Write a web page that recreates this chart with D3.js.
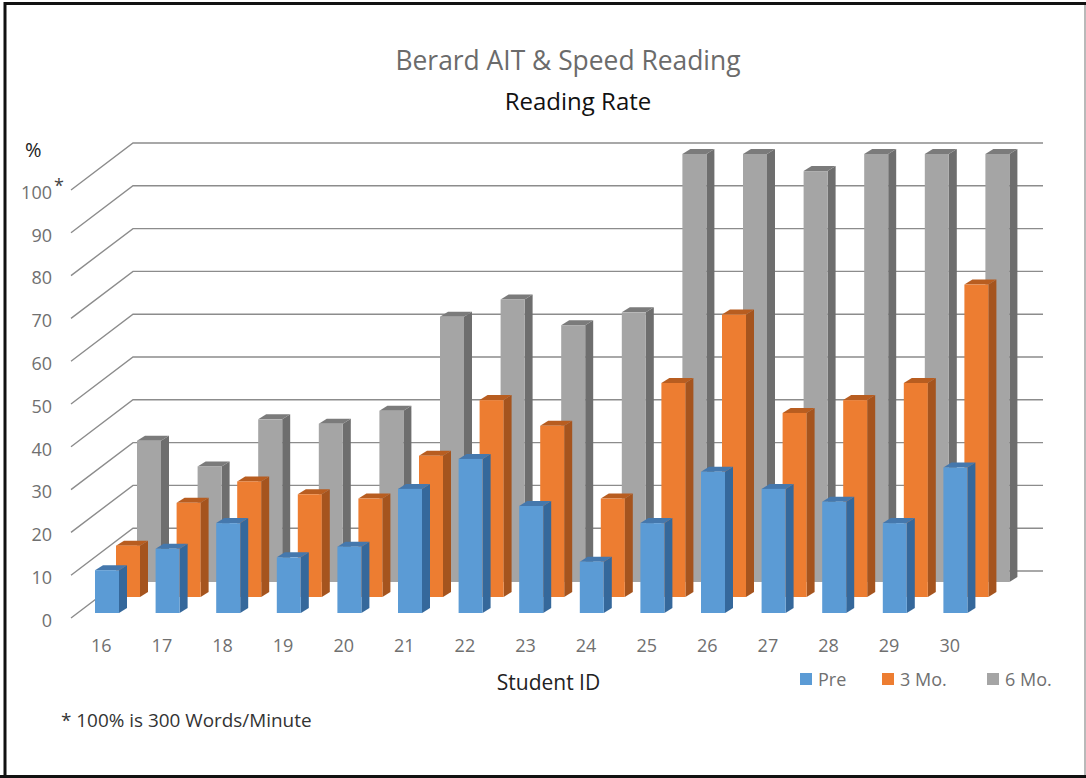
<!DOCTYPE html>
<html>
<head>
<meta charset="utf-8">
<script src="https://cdn.jsdelivr.net/npm/d3@7"></script>
<style>
  html, body { margin: 0; padding: 0; background: #fff; }
  svg { display: block; }
  text { font-family: "Open Sans", "Noto Sans", sans-serif; }
</style>
</head>
<body>
<script>
const studentIds = [16, 17, 18, 19, 20, 21, 22, 23, 24, 25, 26, 27, 28, 29, 30];
const preValues = [10, 15, 21, 13, 15.5, 29, 36, 25, 12, 21, 33, 29, 26, 21, 34];
const threeMoValues = [12, 22, 27, 24, 23, 33, 46, 40, 23, 50, 66, 43, 46, 50, 73];
const sixMoValues = [33, 27, 38, 37, 40, 62, 66, 60, 63, 100, 100, 96, 100, 100, 100];
const yTicks = [0, 10, 20, 30, 40, 50, 60, 70, 80, 90, 100];

const width = 1086;
const height = 778;
const barWidth = 24;
const depthX = 8;
const depthY = 5;

const series = [
    { name: "Pre", values: preValues, dx: 0, base: 613, front: "#5b9bd5", side: "#35689b", top: "#4578ad" },
    { name: "3 Mo.", values: threeMoValues, dx: 21, base: 597, front: "#ed7d31", side: "#a5541e", top: "#b85d20" },
    { name: "6 Mo.", values: sixMoValues, dx: 42, base: 582, front: "#a5a5a5", side: "#6e6e6e", top: "#7b7b7b" }
];

const svg = d3.select("body").append("svg").attr("width", width).attr("height", height);

// frame of the pasted picture
svg.append("rect").attr("width", width).attr("height", height).attr("fill", "#fff");
svg.append("path")
    .attr("d", "M5,778V3.5H1086M0,776.5H1086")
    .attr("fill", "none").attr("stroke", "#111").attr("stroke-width", 3);
svg.append("path")
    .attr("d", "M1085,5V775")
    .attr("fill", "none").attr("stroke", "#8a8a8a").attr("stroke-width", 1.2);

const x = d3.scaleBand().domain(studentIds).range([95, 1004]);
// wall value scale, front of the floor is offset from it
const yBack = d3.scaleLinear().domain([0, 100]).range([571, 143]);
const barHeight = d3.scaleLinear().domain([0, 100]).range([0, 428]);
const yFront = d3.scaleLinear().domain([0, 100]).range([618, 190]);

// gridlines: side wall + back wall
svg.append("g").selectAll("path").data(yTicks).join("path")
    .attr("d", d => `M71,${yFront(d)}L133,${yBack(d)}H1043`)
    .attr("fill", "none").attr("stroke", "#8c8c8c").attr("stroke-width", 1.4);

// bars, back series first
[...series].reverse().forEach(s => {
    const g = svg.append("g").selectAll("g").data(studentIds).join("g");
    const left = id => x(id) + s.dx;
    const topY = (id, i) => s.base - barHeight(s.values[i]);

    g.append("path").attr("fill", s.side)
        .attr("d", (id, i) => {
            const r = left(id) + barWidth;
            return `M${r},${topY(id, i)}l${depthX},${-depthY}V${s.base - depthY}l${-depthX},${depthY}Z`;
        });
    g.append("path").attr("fill", s.top)
        .attr("d", (id, i) => {
            const l = left(id);
            return `M${l},${topY(id, i)}l${depthX},${-depthY}h${barWidth}l${-depthX},${depthY}Z`;
        });
    g.append("rect").attr("fill", s.front)
        .attr("x", left)
        .attr("y", topY)
        .attr("width", barWidth)
        .attr("height", (id, i) => barHeight(s.values[i]));
});

// y axis labels
const yAxis = svg.append("g")
    .attr("transform", "translate(52,2.5)")
    .call(d3.axisLeft(yFront).tickValues(yTicks).tickSize(0).tickPadding(0));
yAxis.select(".domain").remove();
yAxis.selectAll("text").attr("font-size", 18).attr("fill", "#707070");

// x axis labels
const xAxis = svg.append("g")
    .attr("transform", "translate(-24,639)")
    .call(d3.axisBottom(x).tickSize(0).tickPadding(0));
xAxis.select(".domain").remove();
xAxis.selectAll("text").attr("font-size", 18).attr("fill", "#707070");

// titles and notes
const label = (txt, px, py, size, fill, anchor) => svg.append("text")
    .attr("x", px).attr("y", py).attr("font-size", size).attr("fill", fill)
    .attr("text-anchor", anchor || "start").text(txt);

label("Berard AIT & Speed Reading", 568, 70, 26.4, "#6b6b6b", "middle");
label("Reading Rate", 578, 110, 24, "#111", "middle");
label("%", 25, 157, 20, "#222");
label("*", 54, 192, 18, "#444");
label("Student ID", 548.5, 690, 21, "#222", "middle");
label("* 100% is 300 Words/Minute", 61, 727, 18.9, "#333");

// legend
const legendX = [800, 882, 987];
const legend = svg.append("g").selectAll("g").data(series).join("g")
    .attr("transform", (d, i) => `translate(${legendX[i]},673)`);
legend.append("rect").attr("width", 12).attr("height", 12).attr("fill", d => d.front);
legend.append("text").attr("x", 18).attr("y", 12.5).attr("font-size", 18).attr("fill", "#707070").text(d => d.name);
</script>
</body>
</html>
